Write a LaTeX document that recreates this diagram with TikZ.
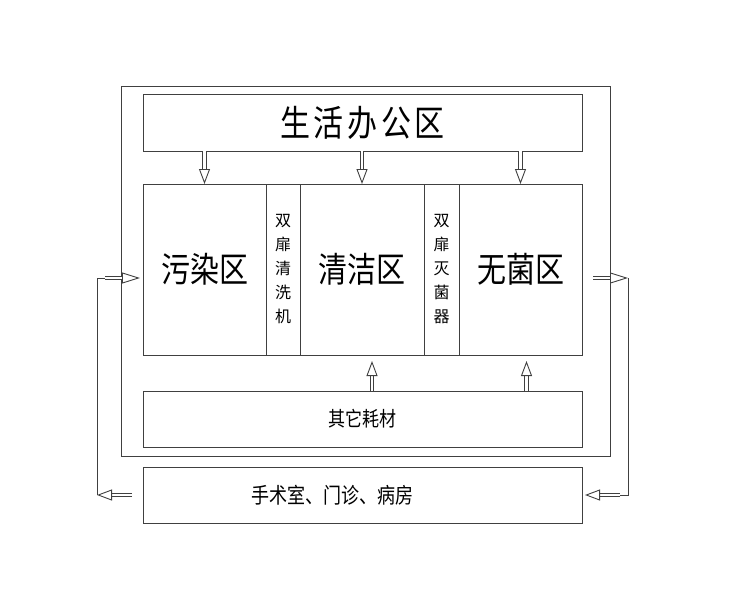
\documentclass[tikz,border=0pt]{standalone}
\usepackage{fontspec}
\newfontfamily\zhfont{Noto Sans CJK SC}
\usetikzlibrary{arrows.meta,positioning}

\newcommand\zhtext[2]{\scalebox{1}[1.2]{\zhfont\fontsize{#1}{#1}\selectfont #2}}

\tikzset{
  box/.style={draw=black!75, line width=1pt, inner sep=0pt, outer sep=0pt, align=center},
  band/.style={box, minimum width=439pt, minimum height=56pt, anchor=north west},
  zone/.style={box, minimum height=171pt},
  col/.style={zone, font=\zhfont\fontsize{16}{24}\selectfont},
  hollow/.style={draw=black!75, line width=0.9pt, double=white, double distance=2.6pt,
    -{Triangle[length=15pt, width=11pt, fill=white, line width=0.9pt]}},
  longtip/.style={-{Triangle[length=18pt, width=11pt, fill=white, line width=0.9pt]}},
}

\begin{document}
\begin{tikzpicture}[x=1pt,y=-1pt]
\useasboundingbox (0,0) rectangle (741,589);
% outer frame
\node[box, minimum width=489pt, minimum height=370pt, anchor=north west] (frame) at (121,86) {};
\node[band, minimum height=57pt] (life) at (143,94) {\zhtext{30}{\addfontfeature{LetterSpace=12}生活办公区}};
% the zones
\node[zone, minimum width=123pt, anchor=north west] (dirty) at (143,184) {\zhtext{29}{污染区}};
\node[col, minimum width=34pt, right=0pt of dirty] (washer) {双\\扉\\清\\洗\\机};
\node[zone, minimum width=124pt, right=0pt of washer] (clean) {\zhtext{29}{清洁区}};
\node[col, minimum width=35pt, right=0pt of clean] (steril) {双\\扉\\灭\\菌\\器};
\node[zone, minimum width=123pt, right=0pt of steril] (sterile) {\zhtext{29}{无菌区}};
\node[band] (other) at (143,391) {\zhtext{17}{其它耗材}};
\node[band] (ops) at (143,467) {};
\node (opstext) at ([xshift=-30pt]ops.center) {\zhtext{18}{手术室、门诊、病房}};

\foreach \z in {dirty,clean,sterile}
    \draw[hollow] (life.south -| \z.north) -- (\z.north);
\foreach \z/\dx in {clean/10pt,sterile/6pt}
    \draw[hollow, shorten >=6pt] ([xshift=\dx]other.north -| \z.south) -- ([xshift=\dx]\z.south);

% return loops
\coordinate (lt) at (97,278);
\coordinate (lb) at (97,495);
\coordinate (rt) at (628,278);
\coordinate (rb) at (628,495);
\draw[hollow, shorten <=11pt] (ops.west) -- (lb);
\draw[draw=black!75, line width=1pt] (lb) -- (lt) -- ++(8,0) coordinate (ls);
\draw[hollow, longtip, shorten >=3pt] (ls) -- (lt -| dirty.west);
\draw[hollow, longtip, shorten <=11pt] (sterile.east |- rt) -- (rt);
\draw[draw=black!75, line width=1pt] (rt) -- (rb) -- ++(-8,0) coordinate (rs);
\draw[hollow, shorten >=3pt] (rs) -- (rb -| ops.east);
\end{tikzpicture}
\end{document}
